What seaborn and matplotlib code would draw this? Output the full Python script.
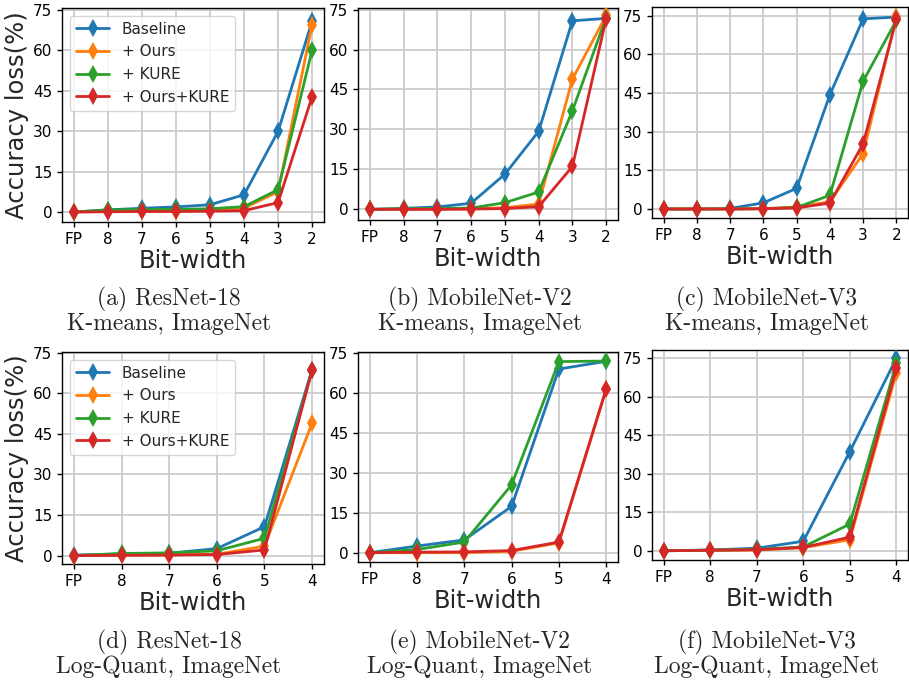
import numpy as np
import pandas as pd
import matplotlib
matplotlib.use("Agg")
import matplotlib.pyplot as plt
import seaborn as sns

# ---------------- data ----------------
methods = ["Baseline", "+ Ours", "+ KURE", "+ Ours+KURE"]
colors = ["#1f77b4", "#ff7f0e", "#2ca02c", "#d62728"]

bits_km = ["FP", "8", "7", "6", "5", "4", "3", "2"]
bits_log = ["FP", "8", "7", "6", "5", "4"]

# (a) ResNet-18, K-means
r18_km_base = [0.0, 0.8, 1.4, 1.9, 2.7, 6.4, 29.9, 70.8]
r18_km_ours = [0.0, 0.3, 0.3, 0.4, 0.6, 1.5, 7.5, 69.5]
r18_km_kure = [0.0, 0.8, 0.9, 1.0, 1.2, 2.0, 8.3, 60.0]
r18_km_both = [0.0, 0.1, 0.2, 0.2, 0.3, 0.5, 3.5, 42.8]

# (b) MobileNet-V2, K-means
mv2_km_base = [0.0, 0.4, 0.9, 2.3, 13.2, 29.3, 70.8, 71.7]
mv2_km_ours = [0.0, 0.1, 0.1, 0.2, 0.6, 2.0, 48.9, 72.8]
mv2_km_kure = [0.0, 0.2, 0.3, 0.5, 2.5, 6.5, 37.0, 72.0]
mv2_km_both = [0.0, 0.0, 0.0, 0.1, 0.3, 1.0, 16.1, 71.6]

# (c) MobileNet-V3, K-means
mv3_km_base = [0.0, 0.0, 0.2, 2.4, 8.0, 44.3, 73.8, 74.5]
mv3_km_ours = [0.0, 0.0, 0.0, 0.1, 0.8, 2.8, 21.5, 74.5]
mv3_km_kure = [0.0, 0.0, 0.0, 0.1, 0.6, 5.3, 49.6, 73.2]
mv3_km_both = [0.0, 0.0, 0.0, 0.1, 0.4, 2.3, 25.3, 73.6]

# (d) ResNet-18, Log-Quant
r18_log_base = [0.2, 0.6, 0.9, 2.6, 10.7, 68.8]
r18_log_ours = [0.0, 0.2, 0.3, 0.5, 3.5, 49.0]
r18_log_kure = [0.0, 0.8, 1.0, 1.8, 6.4, 68.5]
r18_log_both = [0.0, 0.1, 0.2, 0.4, 2.1, 68.6]

# (e) MobileNet-V2, Log-Quant
mv2_log_base = [0.0, 2.5, 4.8, 17.4, 69.0, 71.9]
mv2_log_ours = [0.0, 0.0, 0.0, 0.5, 3.7, 61.5]
mv2_log_kure = [0.0, 1.2, 4.0, 25.5, 71.8, 72.0]
mv2_log_both = [0.0, 0.2, 0.3, 0.8, 4.0, 61.5]

# (f) MobileNet-V3, Log-Quant
mv3_log_base = [0.0, 0.3, 1.0, 3.7, 38.6, 75.0]
mv3_log_ours = [0.0, 0.2, 0.3, 1.2, 4.3, 69.3]
mv3_log_kure = [0.0, 0.2, 0.5, 1.5, 10.4, 73.0]
mv3_log_both = [0.0, 0.2, 0.4, 1.3, 5.3, 71.0]

yticks = [0, 15, 30, 45, 60, 75]

captions = [
    ["(a) ResNet-18", "K-means, ImageNet"],
    ["(b) MobileNet-V2", "K-means, ImageNet"],
    ["(c) MobileNet-V3", "K-means, ImageNet"],
    ["(d) ResNet-18", "Log-Quant, ImageNet"],
    ["(e) MobileNet-V2", "Log-Quant, ImageNet"],
    ["(f) MobileNet-V3", "Log-Quant, ImageNet"],
]

panels = [
    (bits_km, [r18_km_base, r18_km_ours, r18_km_kure, r18_km_both]),
    (bits_km, [mv2_km_base, mv2_km_ours, mv2_km_kure, mv2_km_both]),
    (bits_km, [mv3_km_base, mv3_km_ours, mv3_km_kure, mv3_km_both]),
    (bits_log, [r18_log_base, r18_log_ours, r18_log_kure, r18_log_both]),
    (bits_log, [mv2_log_base, mv2_log_ours, mv2_log_kure, mv2_log_both]),
    (bits_log, [mv3_log_base, mv3_log_ours, mv3_log_kure, mv3_log_both]),
]

# ---------------- layout ----------------
sns.set_style("ticks")
plt.rcParams["font.family"] = ["DejaVu Sans"]

W, H = 909, 687
fig = plt.figure(figsize=(W / 100, H / 100), dpi=100)

# axes boxes in pixels: left, top, right, bottom
boxes = [
    (62, 8, 324, 222),
    (358, 8, 618, 220),
    (652, 7, 908, 218),
    (62, 352, 324, 564),
    (358, 352, 618, 562),
    (652, 350, 908, 560),
]
ylims = [(-3.7, 75.7), (-4.0, 75.6), (-3.5, 78.4),
         (-3.1, 75.3), (-3.5, 75.4), (-3.6, 78.2)]
cap_x = [169, 480, 767, 169, 480, 767]
cap_y = [(305, 330), (305, 330), (305, 330),
         (648, 673), (648, 673), (648, 673)]

palette = dict(zip(methods, colors))

for i, ((bits, series), box) in enumerate(zip(panels, boxes)):
    l, t, r, b = box
    ax = fig.add_axes([l / W, 1 - b / H, (r - l) / W, (b - t) / H])
    rows = []
    for m, vals in zip(methods, series):
        for bt, v in zip(bits, vals):
            rows.append({"bit": bt, "loss": v, "method": m})
    df = pd.DataFrame(rows)
    show_leg = i in (0, 3)
    sns.lineplot(data=df, x="bit", y="loss", hue="method", hue_order=methods,
                 palette=palette, marker="d", markersize=9, mew=0,
                 linewidth=2, sort=False, ax=ax, legend=show_leg, zorder=3)
    ax.set_ylim(*ylims[i])
    ax.set_yticks(yticks)
    ax.grid(True, color="#cccccc", linewidth=1.3, zorder=0)
    ax.set_axisbelow(True)
    ax.tick_params(labelsize=11, length=3.5, width=1, colors="black")
    for s in ax.spines.values():
        s.set_color("black")
        s.set_linewidth(1)
    ax.set_xlabel("Bit-width", fontsize=17.5, labelpad=2)
    if i in (0, 3):
        ax.set_ylabel("Accuracy loss(%)", fontsize=17.5, labelpad=3)
    else:
        ax.set_ylabel("")
    if show_leg:
        sns.move_legend(ax, "upper left", title=None, fontsize=11,
                        frameon=True, handlelength=2.2)
    l1, l2 = captions[i]
    fig.text(cap_x[i] / W, 1 - cap_y[i][0] / H, l1, ha="center", va="baseline",
             fontsize=17, family="cmr10")
    fig.text(cap_x[i] / W, 1 - cap_y[i][1] / H, l2, ha="center", va="baseline",
             fontsize=17, family="cmr10")

fig.savefig("out.png", dpi=100)
